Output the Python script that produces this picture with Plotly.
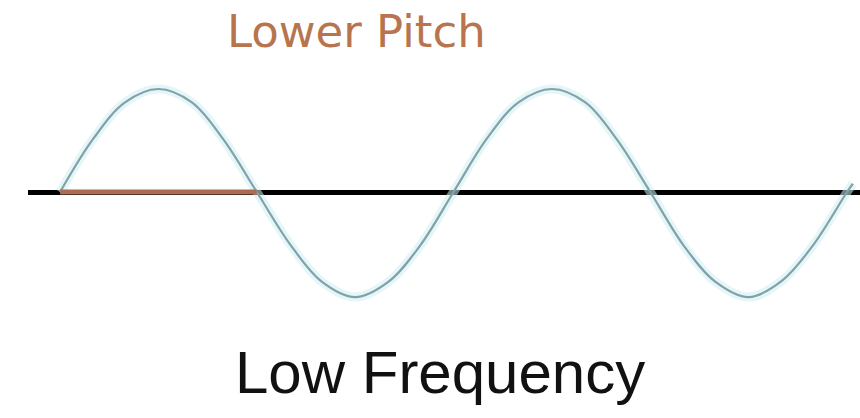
import plotly.graph_objects as go

# Wave: time in half-cycles, amplitude relative to peak
wave_t = [0, 0.17, 0.33, 0.5, 0.67, 0.83, 1.0, 1.17, 1.33, 1.5, 1.67, 1.83, 2.0,
          2.17, 2.33, 2.5, 2.67, 2.83, 3.0, 3.17, 3.33, 3.5, 3.67, 3.83, 4.0, 4.03]
wave_y = [0, 0.52, 0.87, 1.0, 0.87, 0.51, 0, -0.51, -0.87, -1.02, -0.87, -0.52, 0,
          0.52, 0.87, 1.0, 0.87, 0.51, 0, -0.52, -0.87, -1.02, -0.86, -0.51, 0, 0.08]

# One half-cycle highlighted ("Lower Pitch" span)
pitch_t = [0, 1.0]
pitch_y = [0, 0]

title_text = "Lower Pitch"
caption_text = "Low Frequency"

W, H = 860, 418
ML = 28

def px(p):
    return (p - ML) / (W - ML)

def py(p):
    return 1 - p / H

fig = go.Figure()
fig.add_trace(go.Scatter(x=wave_t, y=wave_y, mode="lines",
                         line=dict(color="rgba(205,238,244,0.55)", width=9, shape="spline", smoothing=1.0),
                         hoverinfo="skip", showlegend=False))
fig.add_trace(go.Scatter(x=wave_t, y=wave_y, mode="lines",
                         line=dict(color="#82a2a6", width=2.2, shape="spline", smoothing=1.0),
                         showlegend=False))
fig.add_trace(go.Scatter(x=pitch_t, y=pitch_y, mode="lines",
                         line=dict(color="#a86d52", width=5),
                         showlegend=False))

fig.add_annotation(text=title_text, xref="paper", yref="paper",
                   x=px(356), y=py(32), xanchor="center", yanchor="middle",
                   showarrow=False, font=dict(family="DejaVu Sans", size=45, color="#b8744e"))
fig.add_annotation(text=caption_text, xref="paper", yref="paper",
                   x=px(440), y=py(372), xanchor="center", yanchor="middle",
                   showarrow=False, font=dict(family="Liberation Sans", size=60, color="#111111"))

fig.update_layout(
    width=W, height=H,
    margin=dict(l=ML, r=0, t=0, b=0),
    paper_bgcolor="white", plot_bgcolor="white",
    xaxis=dict(range=[-0.163, 4.066], visible=False, showgrid=False, zeroline=False, fixedrange=True),
    yaxis=dict(range=[-2.194, 1.864], showgrid=False, showticklabels=False, ticks="",
               zeroline=True, zerolinecolor="black", zerolinewidth=5, showline=False, fixedrange=True),
)

fig.write_html("out.html", config={"displayModeBar": False},
               post_script="document.body.style.margin='0';")
